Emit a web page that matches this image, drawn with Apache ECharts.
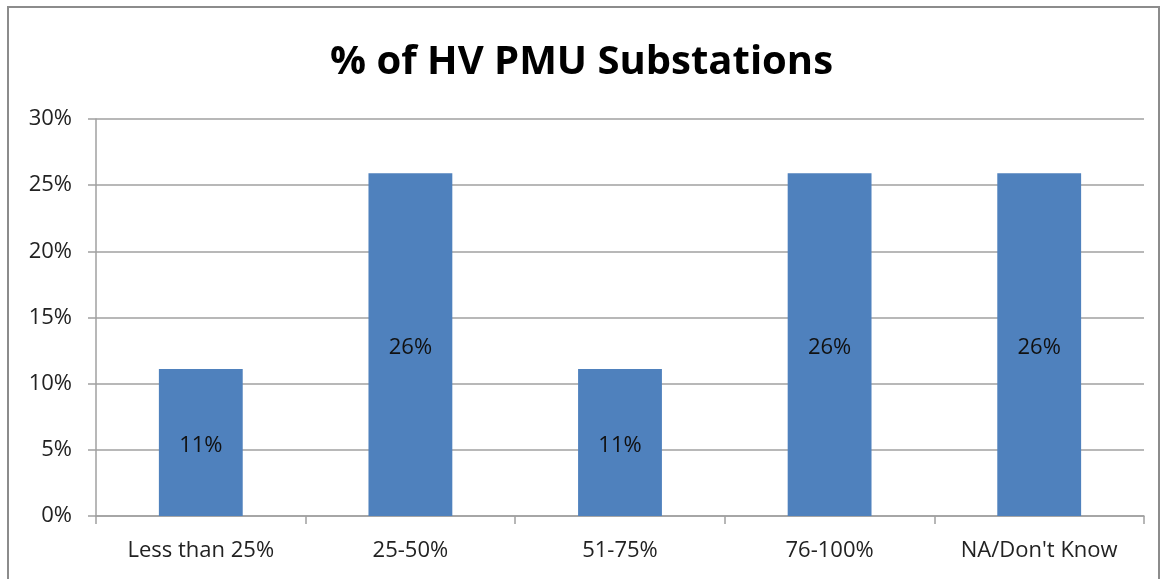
<!DOCTYPE html>
<html>
<head>
<meta charset="utf-8">
<script src="https://cdn.jsdelivr.net/npm/echarts@6/dist/echarts.min.js"></script>
<style>
  html, body { margin: 0; padding: 0; background: #fff; }
  #main { width: 1163px; height: 579px; }
</style>
</head>
<body>
<div id="main"></div>
<script>
// data
var categories = ["Less than 25%", "25-50%", "51-75%", "76-100%", "NA/Don't Know"];
var shares = [11.1, 25.9, 11.1, 25.9, 25.9];
var yTicks = [0, 5, 10, 15, 20, 25, 30];

var myChart = echarts.init(document.getElementById("main"));

var font = "'Open Sans', 'Noto Sans', sans-serif";

var option = {
  animation: false,
  backgroundColor: "#fff",
  title: {
    text: "% of HV PMU Substations",
    left: "center",
    top: 38,
    textStyle: { fontFamily: font, fontWeight: "bold", fontSize: 40, color: "#000" }
  },
  graphic: [
    {
      // outer chart frame
      type: "rect",
      shape: { x: 8, y: 7, width: 1151, height: 600 },
      style: { fill: "none", stroke: "#8c8c8c", lineWidth: 2 },
      silent: true
    }
  ],
  grid: { left: 96, right: 19, top: 119, bottom: 63 },
  xAxis: {
    type: "category",
    data: categories,
    axisLine: { lineStyle: { color: "#a0a0a0", width: 1.5 } },
    axisTick: { show: true, length: 8, alignWithLabel: false, lineStyle: { color: "#a0a0a0", width: 1.5 } },
    axisLabel: { fontFamily: font, fontSize: 22, color: "#222", margin: 24 }
  },
  yAxis: {
    type: "value",
    min: yTicks[0],
    max: yTicks[yTicks.length - 1],
    interval: 5,
    axisLine: { show: true, lineStyle: { color: "#a0a0a0", width: 1.5 } },
    axisTick: { show: true, length: 8, lineStyle: { color: "#a0a0a0", width: 1.5 } },
    splitLine: { lineStyle: { color: "#a0a0a0", width: 1.5 } },
    axisLabel: {
      fontFamily: font, fontSize: 22, color: "#222", margin: 24,
      formatter: function (v) { return v + "%"; }
    }
  },
  series: [
    {
      type: "bar",
      data: shares,
      barWidth: "40%",
      itemStyle: { color: "#4f81bd" },
      label: {
        show: true,
        position: "inside",
        offset: [0, 3],
        fontFamily: font,
        fontSize: 22,
        color: "#111",
        formatter: function (p) { return Math.round(p.value) + "%"; }
      }
    }
  ]
};

myChart.setOption(option);
</script>
</body>
</html>
